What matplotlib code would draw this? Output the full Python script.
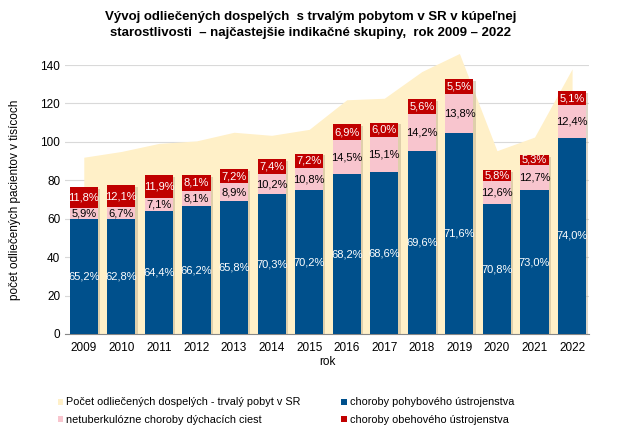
import numpy as np
import matplotlib
matplotlib.use("Agg")
import matplotlib.pyplot as plt

plt.rcParams["font.family"] = ["Liberation Sans", "DejaVu Sans"]

years = [2009, 2010, 2011, 2012, 2013, 2014, 2015,
         2016, 2017, 2018, 2019, 2020, 2021, 2022]
# total discharged adults (thousands)
total = [92.0, 95.0, 99.2, 100.5, 105.0, 103.4, 106.5,
         121.9, 122.7, 136.6, 146.0, 95.4, 102.5, 138.0]
# share of total (%)
pct_pohyb = [65.2, 62.8, 64.4, 66.2, 65.8, 70.3, 70.2,
             68.2, 68.6, 69.6, 71.6, 70.8, 73.0, 74.0]
pct_dych = [5.9, 6.7, 7.1, 8.1, 8.9, 10.2, 10.8,
            14.5, 15.1, 14.2, 13.8, 12.6, 12.7, 12.4]
pct_obeh = [11.8, 12.1, 11.9, 8.1, 7.2, 7.4, 7.2,
            6.9, 6.0, 5.6, 5.5, 5.8, 5.3, 5.1]

C_AREA = "#FFF0C8"
C_BLUE = "#00508C"
C_PINK = "#F8C5CE"
C_RED = "#C00000"

total = np.array(total)
v_blue = total * np.array(pct_pohyb) / 100
v_pink = total * np.array(pct_dych) / 100
v_red = total * np.array(pct_obeh) / 100
x = np.arange(len(years))

fig = plt.figure(figsize=(6.21, 4.30), dpi=100)
ax = fig.add_axes([65 / 621, 1 - 334 / 430, 524 / 621, 269 / 430])

ax.fill_between(x, 0, total, color=C_AREA, lw=0, zorder=1, clip_on=False,
                label="Počet odliečených dospelých - trvalý pobyt v SR")
w = 0.75
# soft shadow on the right of each bar
ax.bar(x + 0.06, v_blue + v_pink + v_red - 1.0, w, color="#B8A888", alpha=0.45,
       zorder=2, lw=0)
ax.bar(x, v_blue, w, color=C_BLUE, zorder=3, label="choroby pohybového ústrojenstva")
ax.bar(x, v_pink, w, bottom=v_blue, color=C_PINK, zorder=3,
       label="netuberkulózne choroby dýchacích ciest")
ax.bar(x, v_red, w, bottom=v_blue + v_pink, color=C_RED, zorder=3,
       label="choroby obehového ústrojenstva")

fmt = lambda p: f"{p:.1f}%".replace(".", ",")
for i in range(len(years)):
    ax.text(x[i], v_blue[i] / 2, fmt(pct_pohyb[i]), ha="center", va="center",
            color="white", fontsize=8, zorder=4)
    ax.text(x[i], v_blue[i] + v_pink[i] / 2, fmt(pct_dych[i]), ha="center",
            va="center", color="black", fontsize=8, zorder=4)
    ax.text(x[i], v_blue[i] + v_pink[i] + v_red[i] / 2, fmt(pct_obeh[i]),
            ha="center", va="center", color="white", fontsize=8, zorder=4)

ax.set_xlim(-0.5, len(years) - 0.55)
ax.set_ylim(0, 140)
ax.set_yticks(range(0, 141, 20))
ax.set_xticks(x)
ax.set_xticklabels([str(y) for y in years])
ax.tick_params(axis="both", labelsize=8.5, length=0)
ax.tick_params(axis="x", pad=6)
ax.grid(axis="y", color="#D9D9D9", lw=0.8, zorder=0)
ax.set_axisbelow(True)
for s in ["top", "right", "left"]:
    ax.spines[s].set_visible(False)
ax.spines["bottom"].set_color("#888888")
ax.set_xlabel("rok", fontsize=8.5, labelpad=1)
ax.set_ylabel("počet odliečených pacientov v tisícoch", fontsize=8.5, labelpad=14)

fig.text(0.5, 1 - 25 / 430, "Vývoj odliečených dospelých  s trvalým pobytom v SR v kúpeľnej\n"
         "starostlivosti  – najčastejšie indikačné skupiny,  rok 2009 – 2022",
         ha="center", va="center", fontsize=9.5, fontweight="bold", linespacing=1.35)

h, l = ax.get_legend_handles_labels()
order = [0, 2, 1, 3]
fig.legend([h[i] for i in order], [l[i] for i in order], ncol=2,
           loc="center left", bbox_to_anchor=(48 / 621, 1 - 411 / 430),
           frameon=False, fontsize=7.8, handlelength=0.5, handleheight=0.5,
           handletextpad=0.3, columnspacing=3.75, labelspacing=0.65)

fig.savefig("out.png", dpi=100)
